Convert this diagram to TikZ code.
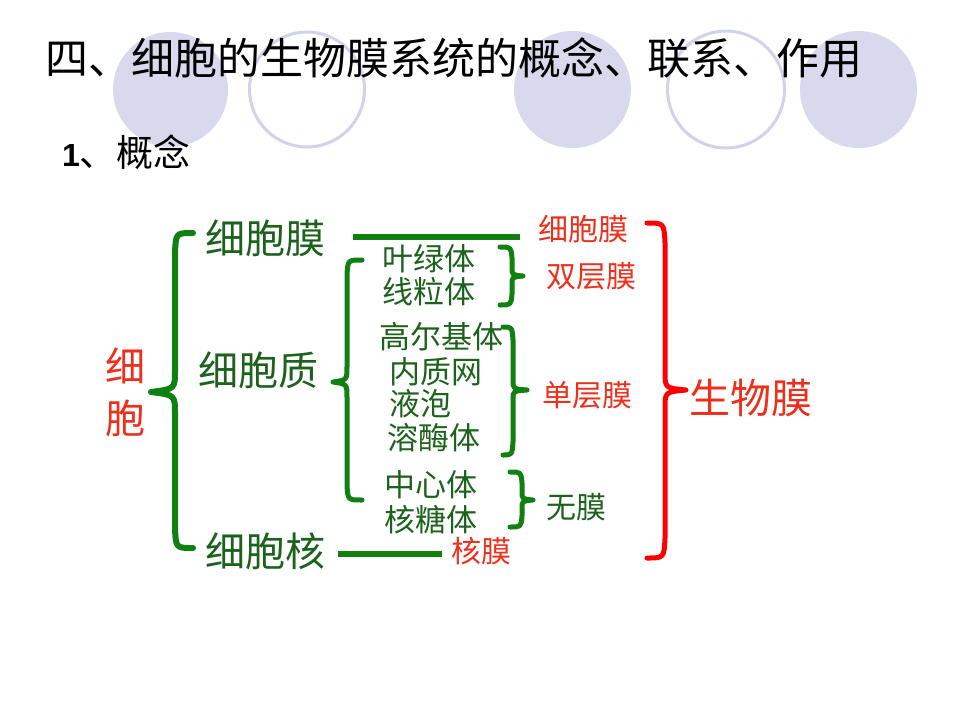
\documentclass[tikz,border=0pt]{standalone}
\usepackage{fontspec}
\newfontfamily\cjk{Noto Sans CJK SC}
\newfontfamily\lsans{Liberation Sans}
\definecolor{lav}{RGB}{217,217,238}
\definecolor{lavline}{RGB}{210,210,234}
\definecolor{braceg}{RGB}{16,128,16}
\definecolor{textg}{RGB}{28,98,28}
\definecolor{bracer}{RGB}{255,0,0}
\definecolor{textr}{RGB}{236,48,28}
\tikzset{
  lbl/.style={inner sep=0pt, outer sep=0pt},
  bigg/.style={lbl, text=textg, font=\cjk\fontsize{40}{40}\selectfont},
  smallg/.style={lbl, text=textg, font=\cjk\fontsize{31}{31}\selectfont},
  smallr/.style={lbl, text=textr, font=\cjk\fontsize{30}{30}\selectfont},
  bigr/.style={lbl, text=textr, font=\cjk\fontsize{41}{41}\selectfont},
  gbrace/.style={draw=braceg, line width=5pt, line cap=round, line join=round},
  rbrace/.style={draw=bracer, line width=5pt, line cap=round, line join=round},
  gline/.style={draw=braceg, line width=6pt},
}
\begin{document}
\begin{tikzpicture}[x=1pt,y=-1pt]
\useasboundingbox (0,0) rectangle (960,720);
% background circles
\fill[lav] (170.5,89.5) circle[radius=57.5pt];
\draw[lavline, line width=3pt, fill=white] (307,89.5) circle[radius=57.5pt];
\fill[lav] (572.5,89.5) circle[radius=58.5pt];
\draw[lavline, line width=3pt, fill=white] (726,89.5) circle[radius=58.5pt];
\fill[lav] (858.5,89.5) circle[radius=58.5pt];
% title
\node[lbl, anchor=west, font=\cjk\fontsize{43}{44}\selectfont] (title) at (45,58) {四、细胞的生物膜系统的概念、联系、作用};
\node[lbl, anchor=west] (sub) at (62,152) {{\lsans\bfseries\fontsize{32}{32}\selectfont 1}{\cjk\fontsize{37}{37}\selectfont 、概念}};
% left labels
\node[lbl, text=textr, font=\cjk\fontsize{40}{40}\selectfont] (xi) at (125,366) {细};
\node[lbl, text=textr, font=\cjk\fontsize{40}{40}\selectfont] (bao) at (125,418) {胞};
\node[bigg] (mem) at (265,238) {细胞膜};
\node[bigg] (cyt) at (258,370) {细胞质};
\node[bigg] (nuc) at (265,551) {细胞核};
% organelles
\node[smallg, anchor=west] (ylt) at (382,259) {叶绿体};
\node[smallg, anchor=west] (xlt) at (382,292) {线粒体};
\node[smallg, anchor=west] (gej) at (379,337) {高尔基体};
\node[smallg, anchor=west] (nzw) at (389,372) {内质网};
\node[smallg, anchor=west] (yp) at (389,404) {液泡};
\node[smallg, anchor=west] (rmt) at (387,438) {溶酶体};
\node[smallg, anchor=west] (zxt) at (384,485) {中心体};
\node[smallg, anchor=west] (htt) at (384,520) {核糖体};
% right labels
\node[smallr] (rmem) at (583,229) {细胞膜};
\node[smallr] (sc) at (591,276) {双层膜};
\node[smallr] (dc) at (587,395) {单层膜};
\node[lbl, text=textg, font=\cjk\fontsize{30}{30}\selectfont] (wm) at (576,507) {无膜};
\node[smallr] (hm) at (481,551) {核膜};
\node[bigr] (swm) at (751,398) {生物膜};
% connector lines
\coordinate (l1a) at (353,237); \coordinate (l1b) at (520,237);
\coordinate (l2a) at (338,554); \coordinate (l2b) at (442,554);
\draw[gline] (l1a) -- (l1b);
\draw[gline] (l2a) -- (l2b);
% big left brace
\draw[gbrace, line width=6pt] (193,233) .. controls (176,233) .. (175,252) -- (175,370)
  .. controls (175,389) .. (151,392) .. controls (175,395) .. (175,414) -- (175,529)
  .. controls (176,548) .. (193,548);
% inner left brace
\draw[gbrace] (362,260) .. controls (348,260) .. (347,274) -- (347,366)
  .. controls (347,380) .. (333,382) .. controls (347,384) .. (347,398) -- (347,486)
  .. controls (348,500) .. (362,500);
% small right braces
\draw[gbrace] (500,247) .. controls (511,247) .. (512,258) -- (512,268)
  .. controls (512,275) .. (523,276) .. controls (512,277) .. (512,284) -- (512,294)
  .. controls (511,305) .. (500,305);
\draw[gbrace] (503,327) .. controls (512,327) .. (513,340) -- (513,380)
  .. controls (513,389) .. (527,390) .. controls (513,391) .. (513,400) -- (513,442)
  .. controls (512,455) .. (503,455);
\draw[gbrace] (510,472) .. controls (521,472) .. (522,483) -- (522,492)
  .. controls (522,499) .. (533,500) .. controls (522,501) .. (522,508) -- (522,516)
  .. controls (521,527) .. (510,527);
% red right brace
\draw[rbrace] (647,223) .. controls (664,223) .. (665,243) -- (665,372)
  .. controls (665,388) .. (686,390) .. controls (665,392) .. (665,408) -- (665,538)
  .. controls (664,558) .. (647,558);
\end{tikzpicture}
\end{document}
